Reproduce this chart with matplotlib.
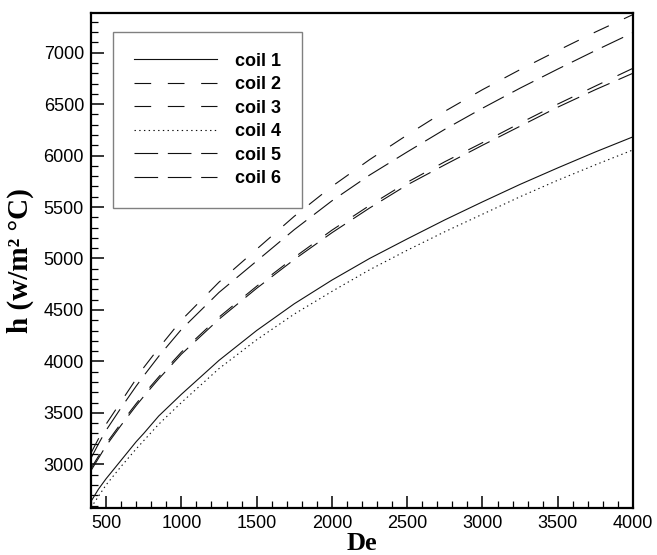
import matplotlib
matplotlib.use("Agg")
import matplotlib.pyplot as plt
from matplotlib.ticker import MultipleLocator

plt.rcParams['lines.scale_dashes'] = False
plt.rcParams['font.family'] = ['Liberation Sans', 'DejaVu Sans']

De = [400, 450, 500, 600, 700, 750, 850, 1000, 1250, 1500, 1750, 2000,
      2250, 2500, 2750, 3000, 3250, 3500, 3750, 4000]
coil1 = [2640, 2760, 2860, 3040, 3220, 3300, 3470, 3680, 4010, 4300, 4560, 4790,
         5000, 5190, 5375, 5550, 5720, 5880, 6035, 6182]
coil2 = [3110, 3250, 3390, 3610, 3830, 3940, 4130, 4400, 4770, 5090, 5410, 5700,
         5960, 6200, 6430, 6640, 6835, 7020, 7200, 7370]
coil3 = [2960, 3080, 3200, 3400, 3590, 3680, 3850, 4090, 4430, 4730, 5010, 5275,
         5515, 5740, 5940, 6125, 6315, 6500, 6675, 6848]
coil4 = [2580, 2690, 2800, 2980, 3150, 3230, 3390, 3600, 3930, 4210, 4460, 4680,
         4890, 5080, 5260, 5430, 5600, 5760, 5910, 6055]
coil5 = [3060, 3200, 3330, 3550, 3760, 3860, 4050, 4310, 4670, 4975, 5280, 5560,
         5810, 6035, 6255, 6460, 6655, 6840, 7020, 7194]
coil6 = [2940, 3060, 3180, 3380, 3570, 3660, 3830, 4070, 4410, 4710, 4990, 5250,
         5490, 5715, 5910, 6100, 6285, 6470, 6640, 6800]

labels = ['coil 1', 'coil 2', 'coil 3', 'coil 4', 'coil 5', 'coil 6']
series = [coil1, coil2, coil3, coil4, coil5, coil6]
styles = ['-', (0, (12, 12)), (0, (12, 12)), (0, (1, 2.4)), (0, (17, 7)), (0, (17, 7))]

fig = plt.figure(figsize=(6.57, 5.55), dpi=100)
ax = fig.add_axes([91/657, 1-508/555, (633-91)/657, (508-13)/555])

for ys, lab, st in zip(series, labels, styles):
    ax.plot(De, ys, color='#111111', lw=0.8, linestyle=st, label=lab)

ax.set_xlim(400, 4000)
ax.set_ylim(2576, 7385)
ax.xaxis.set_major_locator(MultipleLocator(500))
ax.xaxis.set_minor_locator(MultipleLocator(100))
ax.yaxis.set_major_locator(MultipleLocator(500))
ax.yaxis.set_minor_locator(MultipleLocator(100))
ax.tick_params(which='major', direction='in', length=9, width=1.1, labelsize=13, pad=5)
ax.tick_params(which='minor', direction='in', length=5, width=0.9)
ax.tick_params(top=False, right=False, which='both')
for s in ax.spines.values():
    s.set_linewidth(1.6)

ax.set_xlabel('De', fontsize=19, fontweight='bold', family='Liberation Serif', labelpad=0)
ax.set_ylabel('h (w/m² °C)', fontsize=21, fontweight='bold', family='Liberation Serif', labelpad=7)

leg = ax.legend(loc='upper left', bbox_to_anchor=(0.0406, 0.9616), borderaxespad=0,
                prop={'weight': 'bold', 'size': 13}, handlelength=4.6, handletextpad=1.0,
                labelspacing=0.36, borderpad=1.15, fancybox=False, framealpha=1)
leg.get_frame().set_edgecolor('#808080')
leg.get_frame().set_linewidth(1.0)

fig.savefig('out.png', dpi=100)
